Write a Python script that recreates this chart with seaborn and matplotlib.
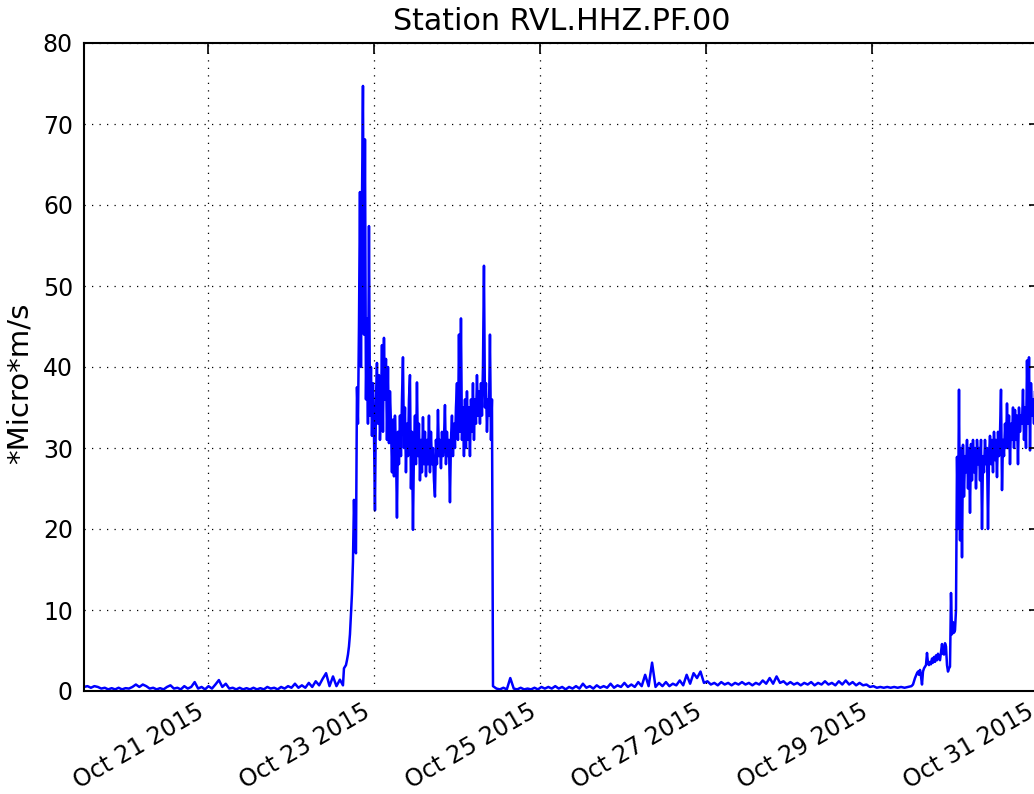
import matplotlib
matplotlib.use("Agg")
import matplotlib.pyplot as plt
import matplotlib.dates as mdates
import numpy as np
import pandas as pd
import seaborn as sns

# ---------------- data ----------------
title_text = "Station RVL.HHZ.PF.00"
y_label = "*Micro*m/s"
y_ticks = [0, 10, 20, 30, 40, 50, 60, 70, 80]

# quiet period before the first episode (hourly samples)
pre_start = "2015-10-19 12:00"
pre_freq = "1h"
pre_vals = [0.5, 0.6, 0.4, 0.6, 0.5, 0.3, 0.4, 0.2, 0.35, 0.2, 0.4, 0.2, 0.35, 0.3, 0.5,
            0.8, 0.5, 0.8, 0.6, 0.3, 0.4, 0.2, 0.35, 0.2, 0.5, 0.7, 0.3, 0.4, 0.2, 0.6,
            0.3, 0.5, 1.1, 0.3, 0.5, 0.2, 0.6, 0.3, 0.8, 1.35, 0.5, 0.9, 0.3, 0.4, 0.2,
            0.4, 0.2, 0.35, 0.2, 0.4, 0.2, 0.35, 0.2, 0.5, 0.3, 0.4, 0.2, 0.5, 0.3, 0.6,
            0.4, 0.9, 0.4, 0.7, 0.4, 1.0, 0.5, 1.2, 0.7, 1.5, 2.2, 0.6, 1.8, 0.6, 1.4]

# first episode (dense samples)
ep1_start = "2015-10-22 14:53"
ep1_freq = "1041s"
ep1_vals = [0.7, 2.8, 3.0, 3.2, 3.8, 4.5, 5.5, 7.0, 9.6, 12.0, 16.0, 23.6, 18.0, 17.0,
            37.5, 33.0, 45.0, 61.6, 40.0, 60.0, 74.7, 44.0, 68.1, 36.0, 46.0, 33.0, 57.4,
            34, 40, 31.5, 38, 32, 22.3, 36, 40.5, 33, 39, 31, 35, 42.7, 32, 43.6, 36, 41,
            31, 40, 30.6, 37, 33, 27, 33.5, 26.5, 34, 30, 21.4, 32, 28, 34, 29, 36, 41.2,
            30, 35, 27, 33, 29, 36, 39, 25, 32, 19.9, 30, 34, 28, 38.1, 29, 33, 26, 31, 27,
            33.8, 28, 32, 26.5, 31, 28, 34, 27, 32, 28, 30, 26, 24, 31, 28, 34.7, 29, 31,
            27.5, 32, 29, 31, 35.3, 28, 32, 29, 31, 23.3, 31, 34, 29, 33, 30, 35, 38, 31,
            44, 32, 46, 31, 35, 29, 36, 30, 37, 31, 35, 29, 36, 32, 38, 31, 36, 33, 39, 34,
            37, 33, 38, 34, 40, 52.5, 35, 38, 32, 36, 34, 44, 31, 36]

# quiet period between the episodes (hourly samples)
mid_start = "2015-10-24 10:16"
mid_freq = "1h"
mid_vals = [0.6, 0.3, 0.2, 0.4, 0.2, 1.6, 0.3, 0.2, 0.4, 0.2, 0.3, 0.2, 0.4, 0.2, 0.5,
            0.3, 0.5, 0.3, 0.6, 0.3, 0.5, 0.2, 0.5, 0.3, 0.6, 0.3, 0.9, 0.4, 0.6, 0.3,
            0.7, 0.4, 0.6, 0.4, 0.9, 0.4, 0.7, 0.5, 1.0, 0.5, 0.8, 0.5, 1.1, 0.6, 2.0,
            0.6, 3.5, 0.5, 1.0, 0.6, 1.1, 0.6, 0.9, 0.7, 1.3, 0.7, 2.0, 0.9, 2.2, 1.6,
            2.4, 1.0, 1.2, 0.8, 1.0, 0.7, 1.1, 0.8, 1.0, 0.7, 1.0, 0.8, 1.1, 0.8, 1.0,
            0.7, 1.0, 0.8, 1.3, 0.9, 1.6, 0.9, 1.8, 1.0, 1.2, 0.8, 1.1, 0.8, 1.0, 0.7,
            1.0, 0.8, 1.1, 0.7, 1.0, 0.8, 1.2, 0.8, 1.0, 0.7, 1.2, 0.8, 1.3, 0.8, 1.1,
            0.7, 1.0, 0.7, 0.8, 0.5, 0.6, 0.4, 0.5, 0.4, 0.5, 0.4, 0.5, 0.4, 0.5, 0.4,
            0.5, 0.6]

# second episode (dense samples)
ep2_start = "2015-10-29 11:43"
ep2_freq = "1041s"
ep2_vals = [0.8, 1.2, 1.6, 1.9, 2.2, 2.4, 2.0, 2.6, 1.8, 0.8, 2.4, 2.8, 3.0, 3.2, 4.7,
            3.4, 3.2, 3.6, 3.3, 4.0, 3.5, 4.2, 3.6, 4.4, 3.8, 4.6, 4.0, 3.8, 4.8, 5.8,
            4.6, 4.5, 5.9, 5.5, 3.2, 2.4, 2.8, 3.0, 12.1, 7.0, 8.5, 7.2, 7.5, 10.0,
            28.9, 20, 37.2, 18.6, 30, 16.5, 30.4, 24, 29, 27, 31, 25, 30, 22, 30.5, 26,
            31, 27, 30, 25, 31, 28, 30, 26, 31, 20, 29, 27, 31, 28, 30, 20, 29, 31.5, 28,
            31, 27, 32, 28.5, 31, 26.4, 32, 29, 31.8, 37.2, 24.8, 31, 29, 33, 30, 35.5,
            30, 34, 28, 33, 31, 35, 30, 34.7, 31, 34, 28, 35, 32, 34, 33, 37.2, 31, 35,
            30, 40.8, 33, 41.2, 29.7, 38, 34, 36, 33, 37, 34, 38, 35, 36, 34]

# ---------------- build table ----------------
segments = [(pre_start, pre_freq, pre_vals), (ep1_start, ep1_freq, ep1_vals),
            (mid_start, mid_freq, mid_vals), (ep2_start, ep2_freq, ep2_vals)]
frames = []
for start, freq, vals in segments:
    frames.append(pd.DataFrame({
        "time": pd.date_range(start=start, periods=len(vals), freq=freq),
        "amp": vals}))
df = pd.concat(frames, ignore_index=True)

# ---------------- plot ----------------
sns.set_style("white")
plt.rcParams["font.family"] = ["DejaVu Sans"]
plt.rcParams["text.color"] = "black"
plt.rcParams["axes.labelcolor"] = "black"

W, H = 1034, 794
fig = plt.figure(figsize=(W / 100, H / 100), dpi=100)
fig.patch.set_facecolor("white")
ax = fig.add_axes([84 / W, 103 / H, 956 / W, 648 / H])

sns.lineplot(data=df, x="time", y="amp", ax=ax, color="#0000ff",
             linewidth=1.8, estimator=None, sort=False)

ax.set_xlim(df["time"].iloc[0], df["time"].iloc[-1])
ax.set_ylim(0, 80)
ax.set_yticks(y_ticks)
ax.xaxis.set_major_locator(mdates.DayLocator(bymonthday=range(1, 32, 2)))
ax.xaxis.set_major_formatter(mdates.DateFormatter("%b %d %Y"))

ax.grid(True, color="black", linestyle=(0, (1, 5)), linewidth=0.9)
ax.set_axisbelow(False)
for s in ax.spines.values():
    s.set_linewidth(1.5)
    s.set_color("black")
ax.tick_params(direction="in", length=8, width=1.2, top=True, right=True,
               labelsize=17, pad=8, colors="black")
ax.tick_params(axis="x", pad=6)
for lbl in ax.get_xticklabels():
    lbl.set_rotation(30)
    lbl.set_ha("right")

ax.set_xlabel("")
ax.set_ylabel(y_label, fontsize=21, color="black")
ax.yaxis.set_label_coords(-0.053, 0.475)
ax.set_title(title_text, fontsize=21.7, pad=9, color="black")

fig.savefig("out.png", dpi=100, facecolor="white")
